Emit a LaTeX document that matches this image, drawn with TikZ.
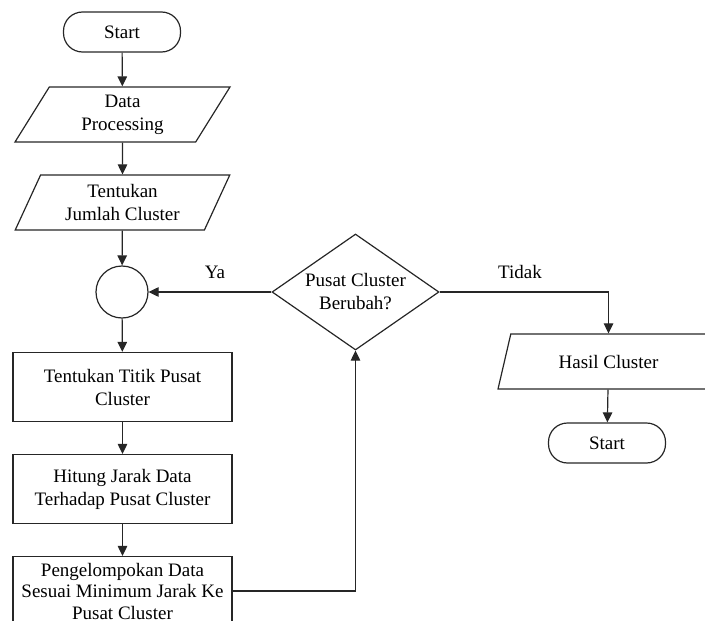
\documentclass[tikz,border=0pt]{standalone}
\usepackage{fontspec}
\setmainfont{Liberation Serif}
\usetikzlibrary{shapes.geometric,arrows.meta}

\begin{document}
\begin{tikzpicture}[
    x=1pt,
    y=-1pt,
    >={Triangle[length=10pt,width=9.5pt]},
    line width=1.2pt,
    font=\fontsize{19}{23}\selectfont,
    terminal/.style={
        draw=black!85,
        rounded corners=19pt,
        minimum width=117pt,
        minimum height=40pt,
        align=center
    },
    io/.style={
        draw=black!85,
        trapezium,
        trapezium left angle=64,
        trapezium right angle=116,
        trapezium stretches=true,
        minimum width=215pt,
        minimum height=55pt,
        inner sep=0pt,
        align=center
    },
    proses/.style={
        draw=black!85,
        minimum width=219pt,
        minimum height=69pt,
        inner sep=0pt,
        align=center
    },
    keputusan/.style={
        draw=black!85,
        diamond,
        aspect=1.44,
        minimum width=167pt,
        minimum height=116pt,
        inner sep=0pt,
        align=center
    },
    konektor/.style={
        draw=black!85,
        circle,
        minimum size=52pt,
        inner sep=0pt
    },
    panah/.style={
        ->,
        draw=black!85
    }
]
    \useasboundingbox (0,0) rectangle (705,621);
    \clip (0,0) rectangle (705,621);

    \node[terminal] (mulai) at (122,32) {Start};
    \node[io] (data) at (122.5,114.5) {Data\\Processing};
    \node[io] (jumlah) at (122.5,202.5) {Tentukan\\Jumlah Cluster};
    \node[konektor] (titik-temu) at (122,292) {};

    \node[proses] (titik) at (122.5,387)
        {Tentukan Titik Pusat\\Cluster};
    \node[proses] (hitung) at (122.5,489)
        {Hitung Jarak Data\\Terhadap Pusat Cluster};
    \node[proses, font=\fontsize{19}{21.5}\selectfont] (kelompok) at (122.5,591)
        {Pengelompokan Data\\Sesuai Minimum Jarak Ke\\Pusat Cluster};

    \node[keputusan] (berubah) at (355.5,292)
        {Pusat Cluster\\Berubah?};

    \node[io, minimum width=221pt] (hasil) at (608.5,361.5) {Hasil Cluster};
    \node[terminal] (selesai) at (607,443) {Start};

    \draw[panah] (mulai) -- (data);
    \draw[panah] (data) -- (jumlah);
    \draw[panah] (jumlah) -- (titik-temu);
    \draw[panah] (titik-temu) -- (titik);
    \draw[panah] (titik) -- (hitung);
    \draw[panah] (hitung) -- (kelompok);

    \draw[panah] (kelompok.east) -| (berubah.south);
    \draw[panah] (berubah.west) -- (titik-temu.east);
    \draw[panah] (berubah.east) -| (hasil.north);
    \draw[panah] (hasil) -- (selesai);

    \node (ya) at (215,272) {Ya};
    \node (tidak) at (520,272) {Tidak};
\end{tikzpicture}
\end{document}
